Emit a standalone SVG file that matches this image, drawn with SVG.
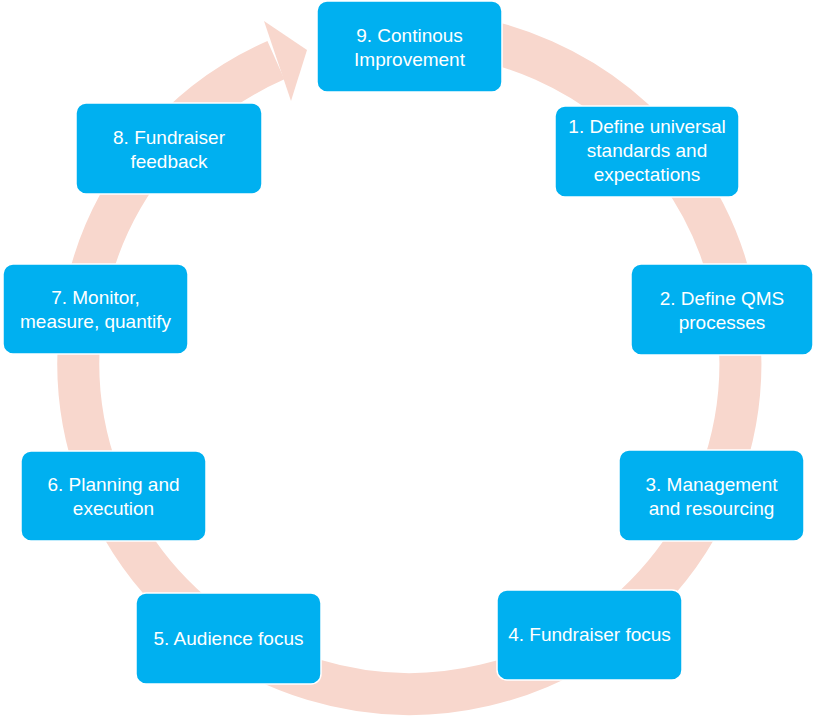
<svg xmlns="http://www.w3.org/2000/svg" width="814" height="717" viewBox="0 0 814 717">
  <style>
    .ring { fill: none; stroke: #F8D7CD; stroke-width: 42; }
    .head { fill: #F8D7CD; }
    .box { fill: #00B0F0; stroke: #FFFFFF; stroke-width: 1.5; }
    .lbl { fill: #FFFFFF; font-family: "Liberation Sans", Arial, sans-serif; font-size: 19px; text-anchor: middle; }
  </style>
  <rect width="814" height="717" fill="#FFFFFF"/>

  <!-- circular arrow running clockwise around the cycle -->
  <g id="connectors">
    <path class="ring" d="M 395 32.3 A 331 331 0 1 1 275.9 60.1"/>
    <polygon class="head" points="264,21 307,50 291,101"/>
  </g>

  <g id="node9">
    <rect class="box" x="317" y="1" width="185" height="91" rx="10"/>
    <text class="lbl" x="409.5" y="42">9. Continous</text>
    <text class="lbl" x="409.5" y="66">Improvement</text>
  </g>
  <g id="node1">
    <rect class="box" x="555" y="106" width="184" height="91" rx="10"/>
    <text class="lbl" x="647" y="133">1. Define universal</text>
    <text class="lbl" x="647" y="157">standards and</text>
    <text class="lbl" x="647" y="181">expectations</text>
  </g>
  <g id="node2">
    <rect class="box" x="631" y="264" width="182" height="91" rx="10"/>
    <text class="lbl" x="722" y="305">2. Define QMS</text>
    <text class="lbl" x="722" y="329">processes</text>
  </g>
  <g id="node3">
    <rect class="box" x="619" y="450" width="185" height="91" rx="10"/>
    <text class="lbl" x="711.5" y="491">3. Management</text>
    <text class="lbl" x="711.5" y="515">and resourcing</text>
  </g>
  <g id="node4">
    <rect class="box" x="497" y="590" width="185" height="90" rx="10"/>
    <text class="lbl" x="589.5" y="641">4. Fundraiser focus</text>
  </g>
  <g id="node5">
    <rect class="box" x="136" y="593" width="185" height="91" rx="10"/>
    <text class="lbl" x="228.5" y="645">5. Audience focus</text>
  </g>
  <g id="node6">
    <rect class="box" x="21" y="451" width="185" height="90" rx="10"/>
    <text class="lbl" x="113.5" y="491">6. Planning and</text>
    <text class="lbl" x="113.5" y="515">execution</text>
  </g>
  <g id="node7">
    <rect class="box" x="3" y="264" width="185" height="90" rx="10"/>
    <text class="lbl" x="95.5" y="304">7. Monitor,</text>
    <text class="lbl" x="95.5" y="328">measure, quantify</text>
  </g>
  <g id="node8">
    <rect class="box" x="76" y="103" width="186" height="91" rx="10"/>
    <text class="lbl" x="169" y="144">8. Fundraiser</text>
    <text class="lbl" x="169" y="168">feedback</text>
  </g>
</svg>
